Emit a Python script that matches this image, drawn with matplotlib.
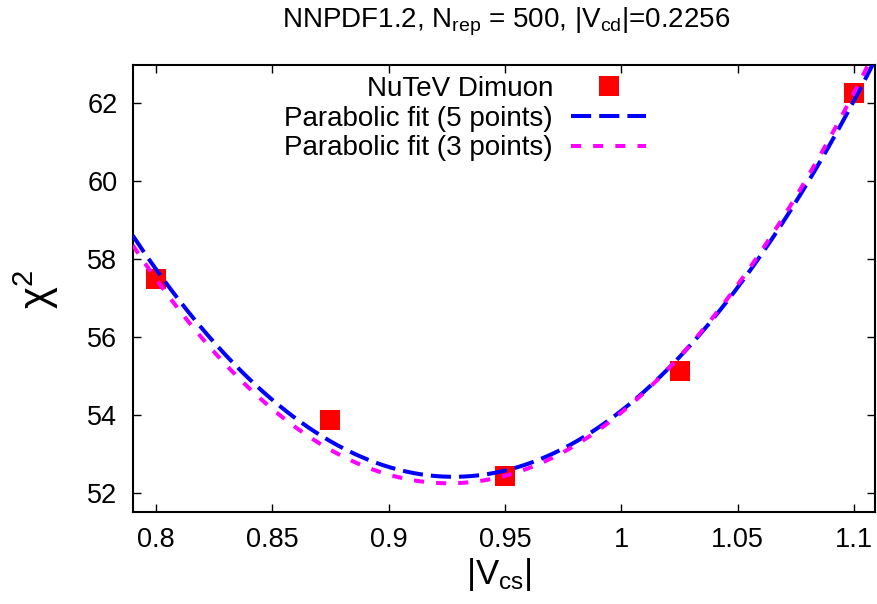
import matplotlib
matplotlib.use('Agg')
import matplotlib.pyplot as plt
import numpy as np

plt.rcParams['font.family'] = ['Liberation Sans', 'DejaVu Sans']
plt.rcParams['mathtext.fontset'] = 'custom'
plt.rcParams['mathtext.rm'] = 'Liberation Sans'
plt.rcParams['mathtext.it'] = 'Liberation Sans:italic'

# NuTeV dimuon chi2 scan in |Vcs|
vcs = [0.8, 0.875, 0.95, 1.025, 1.1]
chi2 = [57.49, 53.86, 52.43, 55.12, 62.28]
fit3_idx = [0, 2, 4]   # points used by the 3-point parabola

xticks = [0.8, 0.85, 0.9, 0.95, 1.0, 1.05, 1.1]
xticklabels = ['0.8', '0.85', '0.9', '0.95', '1', '1.05', '1.1']
yticks = [52, 54, 56, 58, 60, 62]

# parabolic fits
p5 = np.polyfit(vcs, chi2, 2)
p3 = np.polyfit([vcs[i] for i in fit3_idx], [chi2[i] for i in fit3_idx], 2)
xx = np.linspace(0.79, 1.11, 400)

W, H = 877, 604
fig = plt.figure(figsize=(W / 100, H / 100), dpi=100)
ax = fig.add_axes([132.7 / W, 1 - 512 / H, (875 - 132.7) / W, (512 - 64.5) / H])

lw = 2.9
ax.plot(vcs, chi2, 's', color='#ff0000', markersize=15, markeredgewidth=0,
        label='NuTeV Dimuon', zorder=2)
ax.plot(xx, np.polyval(p5, xx), color='#0000ff', lw=lw, dashes=(5, 2),
        label='Parabolic fit (5 points)', zorder=3)
ax.plot(xx, np.polyval(p3, xx), color='#ff00ff', lw=lw, dashes=(2.5, 3),
        label='Parabolic fit (3 points)', zorder=3)

ax.set_xlim(0.79, 1.109)
ax.set_ylim(51.5, 63)
ax.set_xticks(xticks)
ax.set_xticklabels(xticklabels)
ax.set_yticks(yticks)
ax.tick_params(direction='in', length=5.5, width=1.0, top=True, right=True,
               labelsize=19.5)
ax.tick_params(axis='x', pad=11)
ax.tick_params(axis='y', pad=11)
for s in ax.spines.values():
    s.set_linewidth(1.5)

leg = ax.legend(loc='upper right', bbox_to_anchor=(646 / W, 1 - 76 / H),
                bbox_transform=fig.transFigure, frameon=False, markerfirst=False,
                fontsize=20, handlelength=2.7, handletextpad=0.65,
                labelspacing=0.13, borderpad=0, borderaxespad=0, numpoints=1)
for t in leg.get_texts():
    t.set_ha('right')

fig.text(506 / W, 1 - 28 / H, r'NNPDF1.2, N$_{\mathrm{rep}}$ = 500, |V$_{\mathrm{cd}}$|=0.2256',
         ha='center', va='baseline', fontsize=20)
fig.text(499 / W, 1 - 584 / H, r'|V$_{\mathrm{cs}}$|', ha='center', va='baseline',
         fontsize=25)
fig.text(36 / W, 1 - 289 / H, r'χ$^{2}$', ha='center', va='center', rotation=90,
         fontsize=30)

fig.savefig('out.png', dpi=100)
